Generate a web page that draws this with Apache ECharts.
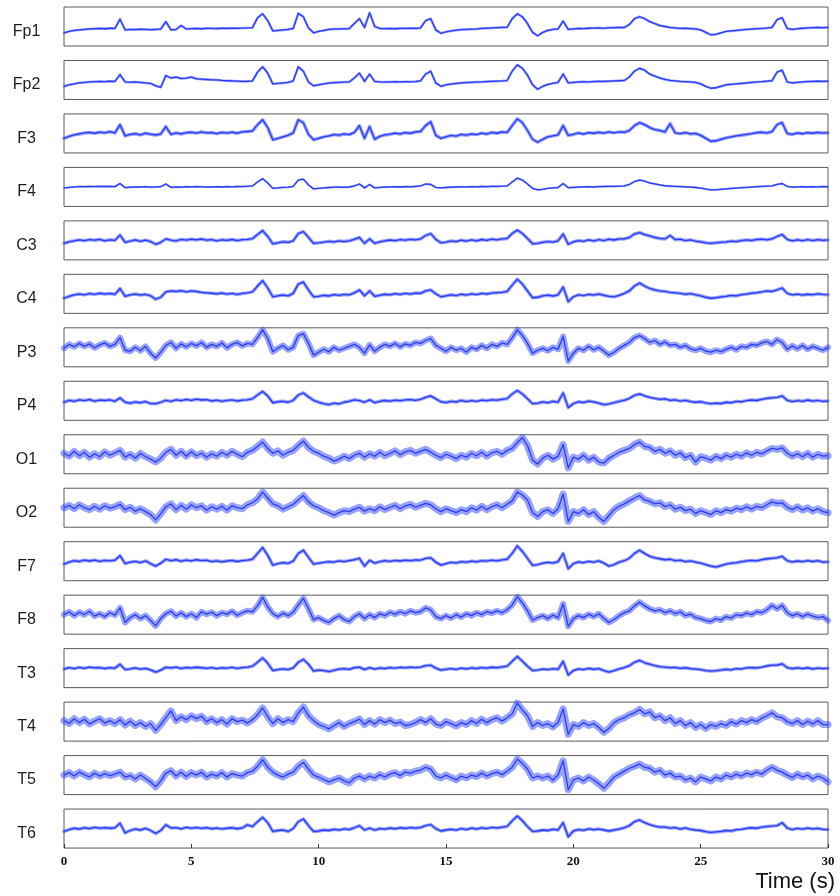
<!DOCTYPE html>
<html>
<head>
<meta charset="utf-8">
<title>EEG montage</title>
<script src="https://cdn.jsdelivr.net/npm/echarts@6/dist/echarts.min.js"></script>
<style>
  html, body { margin: 0; padding: 0; background: #ffffff; }
  #chart { width: 840px; height: 896px; }
</style>
</head>
<body>
<div id="chart"></div>
<script>
// 16-channel EEG trace, 30 s, one sample every 0.2 s (amplitude in display units)
const channels = ['Fp1','Fp2','F3','F4','C3','C4','P3','P4','O1','O2','F7','F8','T3','T4','T5','T6'];
const sampleStep = 0.2;
const timeTicks = [0, 5, 10, 15, 20, 25, 30];

const fp1 = [
  -6.5,-5,-4,-3.5,-3,-2.5,-2.2,-2,-2.3,-1.8,
  -2,7.5,-3.5,-3,-3.2,-2.8,-3,-3.3,-3,-2.6,
  5,-3.5,-3,1,-2.5,-2.2,-2,-2.3,-1.9,-2,
  -2.1,-1.8,-2,-1.7,-1.9,-1.6,-1.5,-1.2,9,13,
  6,-4.5,-4,-3.5,-3,-2,13.5,10,-1.5,-6.5,
  -5,-4,-3,-2.6,-2.5,-2.4,-2.2,3,8,-1,
  14,0,-2,-2.2,-2,-2.3,-1.9,-2,-1.8,-2,
  -1.5,6,8,-3.5,-7,-5.5,-4.5,-3.8,-3.2,-3,
  -2.7,-2.5,-2,-1.8,-1.5,-1.2,-1,-0.8,8,13,
  10,3,-6,-9.5,-6,-4,-3,-2.5,5.5,-3,
  -2.5,-2,-2.2,-1.8,-1.6,-1.5,-1.7,-1.4,-1.2,-1,
  -1,2,8,10,8,5,3,1,0,-1,
  -1.5,-2,-1.8,-2.2,-2.5,-3.5,-6,-8.5,-8,-6.5,
  -5,-4.5,-4,-3.5,-3,-2.6,-2.2,-2,-1.6,-1,
  7,9,-2,-3,-2.2,-1.8,-1.5,-1.2,-1,-1.2,
  -1
];
const fp2 = [
  -6.5,-5,-4,-3,-2.5,-2,-1.8,-1.5,-1.7,-1.3,
  -1.5,5.5,-2,-2.3,-2,-2.5,-3,-3.5,-6,-7.5,
  4.5,2,3,1.5,1.8,3,1.2,0.8,0.5,0.2,
  0,-0.5,-0.8,-1,-1.2,-1.5,-1.4,-1,8,13.5,
  7,-4,-3.5,-3,-2.5,-1,13.5,9,-2,-6,
  -5,-4,-3.2,-2.8,-2.5,-2.2,-2,2,7,-1.5,
  6,-1.5,-2,-2.2,-2,-1.8,-2,-1.7,-1.9,-1.6,
  -1,6,9,-3,-6.5,-5,-4.2,-3.5,-3,-2.7,
  -2.5,-2.2,-2,-1.6,-1.4,-1.2,-1,-0.6,9,15.5,
  12,5,-5,-9.5,-6.5,-4.5,-3.5,-2.5,6,-3,
  -2.5,-2,-1.8,-2,-1.6,-1.4,-1.5,-1.2,-1,-0.8,
  -0.5,3,9,12,10,6,4,2,0.5,-0.5,
  -1,-1.5,-1.8,-2,-2.5,-4,-6.5,-8.5,-8,-6.5,
  -5,-4.5,-4,-3.5,-3,-2.5,-2,-1.8,-1.2,-0.8,
  8,10,-2,-3,-2.5,-2,-1.6,-1.5,-1.3,-1.5,
  -1.2
];
const f3 = [
  -5,-3,-1.5,-0.5,0.5,1,0.2,1.3,0.6,1.8,
  0.5,9,-2.5,-1,-0.3,-1.5,0.2,-0.8,-1.6,-0.5,
  7,-1,0.5,-0.5,0.8,1.2,0.3,1.5,0.6,0.9,
  -0.2,1,0.4,1.3,0.2,1.6,2,2.5,9,14,
  6,-6.5,-5,-3.5,-2,0.5,14,11,-1,-6.5,
  -5,-3.5,-2.5,-1.2,-1.8,-0.5,-1.2,1,8,-5,
  7,-6,-3,-1.5,-0.8,0.3,-0.5,0.8,0.2,1.5,
  2,8,12,-2,-5,-3.5,-2,-2.8,-1,-1.8,
  -0.5,-1.2,0.3,-0.6,1,0.2,1.5,1,8,15,
  11,3,-6,-9,-6,-3.5,-2.5,-1.5,8,-2,
  -1,0.5,-0.6,0.8,0.2,1.2,0.3,1.5,0.6,1.6,
  1.2,3,8,11,9,6,4,3,1.5,10,
  0.5,-0.2,0.8,-0.5,0,-2,-5,-8,-7.5,-6,
  -4.5,-3.5,-2.5,-1.8,-1,-0.2,0.8,1.2,0.5,1.8,
  9,11,0,-1,0.5,-0.3,0.8,0.2,1,0.4,
  0.8
];
const f4 = [
  -1,-0.5,0,0.3,0.2,0.5,0.3,0.6,0.4,0.5,
  0.3,3.5,-0.8,-0.3,0,-0.2,0.2,-0.3,0,0.2,
  3,-0.5,0,-0.3,0.2,0,0.3,0.1,-0.2,0,
  0.2,-0.1,0.3,0,0.4,0.3,0.6,1,5,8.5,
  4,-1.5,-1,-0.5,-0.3,0.5,7,8,2,-2,
  -1.5,-1,-0.6,-0.3,-0.2,-0.4,-0.1,1,3,-1,
  2.5,-1,-0.5,-0.2,0,0.2,-0.1,0.3,0.1,0.5,
  1,3,2.5,-0.5,-1,-0.6,-0.3,-0.1,0.1,0,
  0.2,0.1,0.4,0.2,0.6,0.5,0.8,1,5,9,
  7,3,-1.5,-3,-2.5,-1.5,-1,-0.6,3.5,-0.8,
  -0.5,-0.2,0,0.2,-0.1,0.3,0.4,0.6,0.5,0.8,
  1,2.5,5.5,7,6,4,3,2,1.2,0.8,
  0.5,0.3,0,-0.2,-0.6,-1.2,-2.2,-3,-3,-2.5,
  -2,-1.6,-1.2,-0.8,-0.5,-0.2,0.2,0.5,0.8,1,
  2.5,3.5,0.5,-0.2,0,0.2,-0.1,0.2,0,0.3,
  0.1
];
const c3 = [
  -3,-1.5,-0.5,0.5,-0.3,0.8,0.2,1,-0.4,0.6,
  0,5.5,-2,-0.8,0.4,-1,0.3,-1.2,-4,-2,
  1.5,0.2,-0.6,1,0.3,1.2,0.5,1.4,0.2,0.8,
  -0.5,0.6,0.1,0.9,-0.2,0.7,1,1.8,6,10,
  4,-3.5,-2.5,-1.5,-2,-0.5,7,9,3,-3,
  -2.5,-1.8,-1,-1.6,-0.5,-1.2,-0.4,1,3,-3,
  1.5,-3,-1.5,-0.5,0.4,-0.3,0.8,0.2,1.1,0.6,
  1.5,5,7,1,-2.5,-1.8,-0.6,-1.3,0.2,-0.8,
  0.5,-0.4,0.9,0.1,1.2,0.6,1.5,2,7,10.5,
  7,2,-3.5,-3,-2,-1.2,-1.8,-0.4,6.5,-4,
  -1.5,-0.2,-1,0.5,-0.6,0.8,-0.2,1.2,0.4,1.5,
  1.5,3,6.5,8,6,4.5,3,2,1.5,5,
  0.8,1.2,-0.2,0.5,-0.8,-1.5,-2.5,-3,-2.5,-2,
  -1.6,-0.8,-1.2,-0.2,0.5,-0.1,0.9,1.2,0.6,1.6,
  4,6,1,-0.5,0.6,-0.3,0.8,-0.2,0.7,0.1,
  0.5
];
const c4 = [
  -4.5,-2.5,-1,-0.2,-1,0.3,-0.5,0.6,-0.2,0.4,
  -0.5,5.5,-2.5,-1,-0.2,-1.2,-0.5,-2,-5.5,-3.5,
  2,3,2.5,3.2,2,3,2.4,1.5,1,0.6,
  0,0.8,-0.3,0.5,-0.6,0.4,1,2,8,13.5,
  6,-3,-2,-1.2,-2,0.5,10,12,4,-3,
  -2.5,-1.5,-2.2,-0.8,-1.5,-0.6,-1,1,4,-2,
  3,-2.5,-1.5,-0.4,-1,0.2,-0.6,0.5,-0.2,0.8,
  0.5,3,4,0,-3,-2,-1,-1.8,-0.4,-1.2,
  0,-0.8,0.5,-0.2,0.8,1.2,1.6,2.5,9,15,
  10,3,-4,-3.5,-2,-1.4,-2.2,-1,7,-8,
  -3,-1,-1.8,-0.5,-1.2,-0.2,-1.5,-2.5,-3,-1.5,
  0.5,3,8,11,8,5.5,4,3,2.5,1.5,
  1,0.5,-0.5,0.3,-1,-2,-3.5,-4.5,-4,-3.2,
  -2.5,-1.6,-2,-0.8,-0.2,0.6,1.2,2,3,2.5,
  4,6,0.5,-1,-0.3,-1.2,-0.4,-0.9,0,-0.6,
  -0.8
];
const p3 = [
  -1,3,0.5,4,1,3.5,-0.5,2.5,4.5,1,
  3,10,-3,-4,0,-3.5,1,-6,-11,-5,
  2,5,-1,3.5,0.5,4,1.5,5,0,3,
  1,4.5,-0.5,3,5,1.5,4,3,10,18,
  9,-4.5,-1,2,-2.5,0,12,14,4,-8,
  -5,-2,-4.5,0,-3,-1,1,3,0,-6,
  2.5,-4,0,3,1,4,0.5,3.5,2,5,
  4,7,9,2,-1,-4,0,-3,-1,-5,
  0,-2,2,-1,3,1,4.5,3,10,18,
  12,4,-6,-3,-1,-3.5,0,-2,11,-14,
  -6,-1,-3,1,-2.5,0,-4,-8,-5,-1,
  2,5,10,12,9,5,7,3,5.5,2,
  3,0,2,-1.5,-3,-1,-4,-5,-3,-4.5,
  -2,0,-2.5,1,0,3,2,4.5,6,3,
  8,5,-2,1.5,-1.5,2,-2,1,-1,-3,
  0
];
const p4 = [
  -1.5,0.5,-0.5,1,0.2,1.3,-0.4,0.8,0.3,1,
  -0.5,3,-1.5,-2.5,-1.2,-2,-0.8,-2.8,-3,-1.5,
  0.5,-0.6,1,0.2,1.4,0.5,1.6,0.8,1.2,-0.2,
  0.6,-0.5,0.4,0.9,-0.2,0.7,1,2,6,9.5,
  5,-2,-1,-0.5,-1.5,0.5,6,8,4,0.5,
  -1.5,-3,-4,-2.5,-3.2,-1.5,-0.5,1,0.2,-1.5,
  1,-2,-0.5,0.3,-0.4,0.6,0.1,0.9,1.2,0.5,
  1.5,3.5,5,2,-1,-1.8,-0.5,-1.2,0.3,-0.8,
  0.2,-0.6,0.7,0.1,1,0.6,1.5,2.2,7,10.5,
  7,2,-3,-2.5,-1.2,-2,-0.6,-1.4,8,-7,
  -3,-1,-1.8,-0.3,-1.2,-2.5,-4,-3.2,-2,-0.5,
  0.5,2.5,5.5,7,5,3.5,2.5,1.5,2,0.5,
  1,-0.3,0.5,-0.8,-1.5,-1,-2.2,-3,-2.5,-2.8,
  -1.5,-2,-0.6,-1,0.2,0.8,0.3,1.5,2.5,3,
  3.5,5,0.5,-0.8,0.2,-0.5,0.8,-0.3,0.4,-0.6,
  -0.2
];
const o1 = [
  1,-2,3,-1.5,2,-3,0.5,-2.5,2.5,-1,
  1.5,4,-3,0,-4,1,-2.5,-5,-8,-4,
  2,5,-1,3,-2,2.5,-1.5,1,-3,0.5,
  -2,2,-1,3,0,-2.5,2,4,8,12.5,
  6,1,3.5,-1,2,4,9,13.5,7,3,
  1,-2,-4,-7,-5,-2,-4.5,-1,1,-3,
  0.5,-2,2,-1.5,1,3.5,-0.5,2.5,4,1,
  3,5,2,-1,-3.5,0,-2,-4.5,-1,-3,
  1,-1.5,2,-2,1.5,3,0,4,6,12,
  17,9,-6,-10,-4,-1,-5,-2,10,-14,
  -3,-5,-1,-6,-3,-8,-9,-4,-1,2,
  4,6,10,12.5,8,7,3,5,1,3.5,
  -1,1.5,-3.5,-1,-8,-2.5,-4,-6,-2,-4.5,
  -1,-3,0,-2,1.5,-1,2,0.5,3.5,6,
  5,6.5,1,-2,0.5,-2.5,1,-3,0,-2,
  -1.5
];
const o2 = [
  0,2.5,-1,3,0,-2,1.5,-1.5,2,-0.5,
  1,3.5,-2,0.5,-3.5,-1,-4,-7,-12.5,-6,
  1,4,-2,2.5,-1.5,3,0,2,-2.5,1,
  -1.5,1.5,-2.5,2,0,-1,3,5,9,16,
  10,4,2,-1.5,1,3.5,8,12.5,6,2,
  0,-3,-5,-7.5,-5,-3,-4,-1.5,0.5,-3.5,
  -1,-3,1,-2,0.5,2.5,-1,2,3.5,0.5,
  2.5,4.5,3,-1,-4,-1,-3,-5,-2,-4,
  0,-2.5,1.5,-2,1,3,0,3.5,7,16,
  13,8,-5,-9,-4,-2,-6,-1,14,-14,
  -4,-6,-2,-7,-4,-10,-14,-8,-2,1.5,
  4,7,10,12.5,8,6.5,4,5,1,3,
  -1.5,0.5,-3,-1.5,-6,-3,-5,-7,-3,-5,
  -2,-3.5,-0.5,-2,1,-1.5,1.5,0,3,6,
  4.5,5,0.5,-2,1,-2.5,0,-3.5,-1,-4,
  -5
];
const f7 = [
  -3,-1,0.5,-0.3,1,0.2,1.2,-0.2,0.8,0.4,
  1,5.7,-2.5,-1,-0.2,-1.5,0.3,-2.5,-5,-2,
  2,0.5,1.5,0,1.2,0.3,1.5,0.6,1,-0.4,
  0.4,-0.6,0.2,0.8,-0.3,0.6,1,2,8,14,
  6,-4,-2.5,-1.5,-2.2,0,8,11.3,4,-3,
  -2,-1.2,-0.5,-1,0.3,-0.4,0.6,1.5,3,-5,
  1,-2,-0.5,0.5,-0.2,0.8,0.2,1,0.5,1.3,
  1,3,3.5,-1,-4,-2.5,-1.2,-1.8,-0.5,-1,
  0,-0.6,0.5,0.1,1,0.4,1.3,2,8,15.7,
  10,3,-4.3,-3.5,-2,-1.2,-1.8,-0.5,8,-7.7,
  -2.5,-0.8,-1.5,-0.2,-1,0.3,-2,-5,-3.5,-1,
  0.5,3,8,11.3,8,5,3.5,2.5,1.5,2,
  0.5,1,-0.5,0.3,-1,-2,-3.5,-5,-6,-4.5,
  -3,-2,-1.5,-0.5,0.3,0.8,0.4,1.5,2.5,3,
  3.5,5,0.5,-0.8,0.2,-0.5,0.6,-0.3,0.5,-1,
  -0.6
];
const f8 = [
  0,3,-1,2.5,0,3.5,-1.5,1,-2,2,
  -0.5,7,-8,-3,0,-4,-1,-6,-11.5,-4,
  1,3.5,-1.5,2,-2,1,-3,3,0.5,2.5,
  -1,2,0.5,3.5,-0.5,2,4,3,9,17.8,
  8,1,-2,1.5,-1,2.5,10,16.8,6,-5,
  -3,-6,-8,-4,-1,-5,-7,-2,1,-4,
  0,-3,1,-1,2.5,0.5,3,1,4,2,
  3,7,5,-2,-4,-1,-3.5,0,-2.5,1,
  -1,2,0,3,1.5,4,2,5,10,18.5,
  12,4,-5.5,-3,-1,-4,-0.5,-3,11,-12,
  -4,-1,-3,0.5,-2,1,-4,-8,-5,-1,
  2,4,9,12.8,9,6,4,5,2,4,
  1,3,-1,0.5,-3,-4,-6,-7,-4,-5.5,
  -2,-3.5,0,-1,1.5,0,3,2,5,9.5,
  6,9.5,2,-1,1,-2,0.5,-1.5,-3,-2,
  -6
];
const t3 = [
  -1,0.5,-0.5,0.8,-0.2,1,0.3,0.6,-0.4,0.5,
  0,4,-1.5,-0.8,0.2,-1,-0.3,-1.8,-4,-2,
  0.8,0.2,1,-0.3,0.6,0.2,0.9,0.4,-0.2,0.5,
  -0.5,0.3,0,0.8,-0.3,0.6,1,2,6,10.5,
  5,-2.5,-1.5,-0.8,-1.5,0.2,6,9,4,-3,
  -2,-2.5,-3.5,-2.2,-1,-0.6,-1.2,0.5,1,-1.5,
  0.5,-1,0.2,-0.4,0.6,0,0.8,0.3,1,0.6,
  1,2.5,3,0,-2,-1.2,-0.5,-1.3,0,-0.8,
  0.3,-0.4,0.6,0,0.9,0.5,1.2,2,7,12,
  7,2,-2.5,-2,-1,-1.5,-0.6,-1.2,7,-7,
  -2.5,-0.8,-1.5,-0.2,-1.2,-0.5,-2.5,-4,-2.5,-0.8,
  0.5,2.5,6,8,5.5,4,2.5,1.5,1,0.5,
  0.8,-0.2,0.4,-0.6,-1,-1.5,-2.5,-3,-2.6,-2,
  -1.2,-1.8,-0.5,-0.8,0.3,0.6,0.2,1,2.2,3,
  3,4.5,0.5,-0.6,0.3,-0.5,0.4,-0.8,0.1,-0.5,
  0
];
const t4 = [
  1,-2,3,-1,2.5,-2.5,0.5,3,-1.5,1,
  -2,2,-3.5,0.5,-4,-1,-5,-2,-9,-3,
  4,11,1,5,2,6,3,5.5,0,3,
  -1,2,-2.5,3,0,1.5,-1.5,2,7,14,
  5,-2,3,-1,2,0,9,15,6,1,
  -3,-5,-7.5,-4,-1,-5,-2,0,2.5,-3,
  1,-2.5,2,-1,1.5,-2,-0.5,-4,-3,-1,
  2,-1,3,-2.5,-4,0,-2,-4.5,-1,-3,
  1,-2,2.5,-1,2,4,0.5,4,8,19,
  12,6,-5,-1,-4,-2,-5.5,-1,13,-13,
  -3,-5,-1,-4,-2,-6,-11,-7,-1,2,
  4,7,9,12.5,8,10,4,6,1,4,
  -2,1,-4,-1,-6,-3,-7,-3,-5,-2,
  -4,0,-2.5,1,-1,2,0,3.5,6,9,
  5,4,0,-2,1,-3,0.5,-2.5,1,-3,
  -3
];
const t5 = [
  0,2.5,-1,3,0.5,-2,2,-1,1.5,-0.5,
  1,3,-2,-0.5,-4,0,-3.5,-7,-12,-6,
  2,4.5,-1,3,-1.5,2.5,0,3,-2,1,
  -1,2.5,-2,1.5,0,-1,2.5,4,9,15.7,
  8,3,0,-2,1,3,9,13,6,0,
  -2,-4.5,-7,-5,-3,-6,-8,-3,-1,-4,
  -1,-3,0.5,-2,1,2.5,-0.5,3,2,4,
  5,8,6,-1,-3,0,-2.5,-5,-1,-3,
  0,-1.5,2,-1,1.5,3,0.5,4,8,16.4,
  12,6,-3,-1,-3,-1,-5,0,14.7,-15,
  -5,-3,-6,-2,-5,-9,-13.6,-8,-2,1,
  4,7,9,11.4,8,7,3,5,0,2,
  -2,-1,-5,-3,-7,-2,-4,-6,-2,-4,
  0,-2,1,-1,2,0.5,3,1,5,8,
  5,3,0,-2.5,1,-2,0,-4,-1,-3,
  -7
];
const t6 = [
  -3,-1,0.3,-0.5,0.8,0,1.2,0.4,0.9,0.3,
  0.8,5.5,-4.5,-2,-0.5,-1.5,0.2,-2,-5,-2,
  3.8,0.5,1,-0.3,1.2,0.4,1,0.2,0.9,-0.2,
  0.5,-0.4,0.3,0.8,-0.2,0.6,3.8,2,7,11.5,
  6,-3,-2,-1.5,-3,0,7,9.8,3,-3,
  -2.5,-1.5,-2,-0.8,-1.5,-0.3,-1,0.8,3,-1.5,
  0.5,-1.5,0,-0.6,0.5,-0.2,0.8,0.2,1,0.5,
  1,3,4,0,-2.5,-1.5,-0.8,-1.6,0,-1,
  0.5,-0.5,0.8,0,1.2,0.6,1.4,2.2,8,12.8,
  8,2,-3,-2.5,-1.5,-2,-0.8,-1.5,6,-8.5,
  -2.5,-1,-1.8,-0.3,-1.2,-0.5,-1.5,-2.5,-1.5,-0.5,
  0.8,3,7,8.8,6,4,2.5,1.5,1.5,0.5,
  1,-0.5,0.6,-0.8,-1.5,-2,-3.2,-4,-3.5,-3,
  -2,-2.5,-1.2,-0.8,0.2,0.8,0.3,1.5,2,2.5,
  3,6,0.5,-1,0.2,-0.6,0.5,-0.4,0.2,-0.8,
  -1
];

const signals = [fp1, fp2, f3, f4, c3, c4, p3, p4, o1, o2, f7, f8, t3, t4, t5, t6];

// Drawing style: width of the soft halo that shows each channel's noise level
const haloWidth = [2.5, 2.5, 3.5, 2, 3.5, 3.5, 6, 3.5, 7, 7, 3.5, 6, 3.5, 7, 7, 3.5];

const LEFT = 64, RIGHT = 12, TOP0 = 7, PITCH = 53.47, PANEL_H = 39;
const TRACE = '#2a3cf6';
const HALO = 'rgba(50, 70, 255, 0.5)';

const grids = [], xAxes = [], yAxes = [], series = [], labels = [];
const last = channels.length - 1;

channels.forEach((name, i) => {
  const top = TOP0 + i * PITCH;
  grids.push({
    left: LEFT, right: RIGHT, top: top, height: PANEL_H,
    show: true, borderColor: '#5a5a5a', borderWidth: 1, backgroundColor: '#ffffff'
  });
  const isLast = i === last;
  xAxes.push({
    type: 'value', gridIndex: i, min: timeTicks[0], max: timeTicks[timeTicks.length - 1],
    interval: timeTicks[1] - timeTicks[0],
    show: isLast,
    axisLine: { show: false, onZero: false },
    axisTick: { show: isLast, inside: true, length: 4, lineStyle: { color: '#333' } },
    splitLine: { show: false },
    axisLabel: {
      show: isLast, margin: 7, color: '#111',
      fontFamily: '"Liberation Serif", "DejaVu Serif", serif', fontWeight: 'bold', fontSize: 13
    }
  });
  yAxes.push({
    type: 'value', gridIndex: i, min: -20, max: 20, show: false
  });
  const pts = signals[i].map((v, k) => [+(k * sampleStep).toFixed(2), v]);
  series.push({
    type: 'line', xAxisIndex: i, yAxisIndex: i, data: pts, showSymbol: false, silent: true,
    lineStyle: { color: HALO, width: haloWidth[i], join: 'round', cap: 'round' },
    animation: false, z: 1
  });
  series.push({
    type: 'line', xAxisIndex: i, yAxisIndex: i, data: pts, showSymbol: false, silent: true,
    lineStyle: { color: TRACE, width: 1.3, join: 'round' },
    animation: false, z: 2
  });
  labels.push({
    type: 'text', x: 26.5, y: top + PANEL_H / 2 + 5,
    style: {
      text: name, align: 'center', verticalAlign: 'middle',
      fontFamily: '"Liberation Sans", Arial, sans-serif', fontSize: 16, fill: '#1c1c1c'
    }
  });
});

labels.push({
  type: 'text', x: 835, y: 882,
  style: {
    text: 'Time (s)', align: 'right', verticalAlign: 'middle',
    fontFamily: '"Liberation Sans", Arial, sans-serif', fontSize: 22, fill: '#111'
  }
});

const chart = echarts.init(document.getElementById('chart'), null, { renderer: 'canvas' });
chart.setOption({
  animation: false,
  backgroundColor: '#ffffff',
  grid: grids,
  xAxis: xAxes,
  yAxis: yAxes,
  series: series,
  graphic: labels
});
</script>
</body>
</html>
